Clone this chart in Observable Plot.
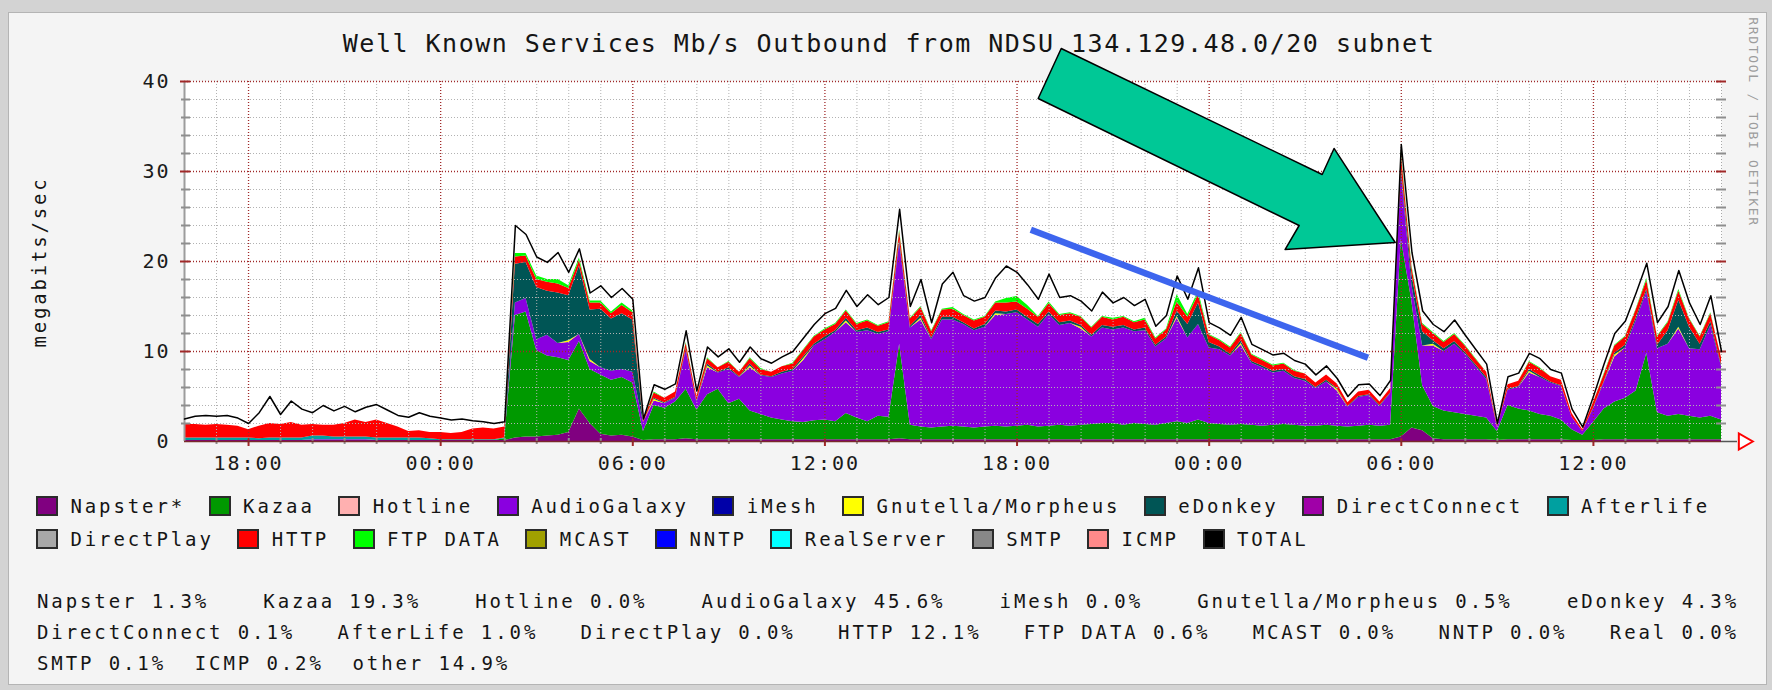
<!DOCTYPE html>
<html>
<head>
<meta charset="utf-8">
<script src="https://cdn.jsdelivr.net/npm/d3@7"></script>
<script src="https://cdn.jsdelivr.net/npm/@observablehq/plot@0.6"></script>
<style>
  html, body { margin: 0; padding: 0; background: #d3d3d3; }
  #page { position: relative; width: 1772px; height: 690px; overflow: hidden; }
  #panel { position: absolute; left: 8px; top: 12px; width: 1759px; height: 673px; background: #f4f4f4; border: 1px solid #b4b4b4; box-sizing: border-box; }
  .mono { font-family: "DejaVu Sans Mono", monospace; color: #151515; white-space: pre; }
  #title { position: absolute; left: 889px; top: 31px; transform: translateX(-50%); font-size: 25px; line-height: 25px; letter-spacing: 1.5px; }
  #chart { position: absolute; left: 0; top: 60px; }
  #ylabel { position: absolute; left: 39px; top: 262px; transform: translate(-50%, -50%) rotate(-90deg); font-size: 19px; line-height: 20px; letter-spacing: 2.8px; }
  #credit { position: absolute; left: 1753px; top: 122px; transform: translate(-50%, -50%) rotate(90deg); font-size: 13px; line-height: 14px; letter-spacing: 1.7px; color: #9c9c9c; }
  .lrow { position: absolute; left: 36px; display: flex; align-items: center; height: 20px; }
  .item { display: flex; align-items: center; margin-right: 23.6px; }
  .sw { width: 22px; height: 20px; box-sizing: border-box; border: 2px solid #2b2b2b; margin-right: 12.4px; }
  .txt { font-size: 19px; line-height: 20px; letter-spacing: 2.9px; }
  .srow { position: absolute; left: 37px; height: 20px; display: flex; font-size: 19px; line-height: 20px; letter-spacing: 2.9px; }
</style>
</head>
<body>
<div id="page">
  <div id="panel"></div>
  <div id="title" class="mono">Well Known Services Mb/s Outbound from NDSU 134.129.48.0/20 subnet</div>
  <div id="ylabel" class="mono">megabits/sec</div>
  <div id="credit" class="mono">RRDTOOL / TOBI OETIKER</div>
  <div id="chart"></div>
  <div id="legend"></div>
  <div id="stats"></div>
</div>
<script>
// ---------- data (20-minute samples, hours since 16:00 of day 1) ----------
const N = 145;
const stepHours = 1 / 3;

const xTickHours = [2, 8, 14, 20, 26, 32, 38, 44];
const xTickLabels = ["18:00", "00:00", "06:00", "12:00", "18:00", "00:00", "06:00", "12:00"];
const yTickValues = [0, 10, 20, 30, 40];
const yMinor = [2, 4, 6, 8, 12, 14, 16, 18, 22, 24, 26, 28, 32, 34, 36, 38];

const legendNames = ["Napster*", "Kazaa", "Hotline", "AudioGalaxy", "iMesh", "Gnutella/Morpheus", "eDonkey", "DirectConnect", "Afterlife",
                     "DirectPlay", "HTTP", "FTP DATA", "MCAST", "NNTP", "RealServer", "SMTP", "ICMP", "TOTAL"];
const legendColors = ["#800080", "#009900", "#ffb0b0", "#8a00e0", "#0000a8", "#ffff00", "#005555", "#a000a8", "#00a0a0",
                      "#a8a8a8", "#ff0000", "#00ff00", "#a0a000", "#0000ff", "#00ffff", "#888888", "#ff8a8a", "#000000"];

const statLabels = ["Napster", "Kazaa", "Hotline", "AudioGalaxy", "iMesh", "Gnutella/Morpheus", "eDonkey",
                    "DirectConnect", "AfterLife", "DirectPlay", "HTTP", "FTP DATA", "MCAST", "NNTP", "Real",
                    "SMTP", "ICMP", "other"];
const statPercents = [1.3, 19.3, 0.0, 45.6, 0.0, 0.5, 4.3, 0.1, 1.0, 0.0, 12.1, 0.6, 0.0, 0.0, 0.0, 0.1, 0.2, 14.9];

const napster = [
  0.1,0.1,0.1, 0.1,0.1,0.1, 0.1,0.1,0.1, 0.1,0.1,0.1, 0.1,0.1,0.1, 0.1,0.1,0.1, 0.1,0.1,0.1, 0.1,0.1,0.1, 0.1,0.1,0.1, 0.1,0.1,0.1,
  0.1,
  0.4,0.5,0.5,0.6,0.7,1.0,3.6,2.0,0.8,0.6,0.7,0.5,0.1,
  0.2,0.2,0.2,0.3,0.2,0.2,0.2,0.2,0.2,0.2, 0.2,0.2,0.2,0.2,0.2,0.2,0.2,0.2,0.2,0.2, 0.2,0.2,0.2,0.3,0.2,0.2,0.2,0.2,0.2,0.2,
  0.2,0.2,0.2,0.2,0.2,0.2,0.2,0.2,0.2,0.2, 0.2,0.2,0.2,
  0.2,0.2,0.2,0.2,0.2,0.2,0.2,0.2,0.2,0.2, 0.2,0.2,0.2,0.2,0.2,0.2,0.2,0.2,0.2,0.2, 0.2,0.2,0.2,0.2,0.2,0.2,0.2,
  0.5,1.5,1.2,0.3, 0.2,0.2,0.2,0.2,0.2, 0.1, 0.2,0.2,0.2,0.2,0.2,0.2, 0.1,0.1,0.1,
  0.2,0.2,0.2,0.2,0.2,0.2,0.2,0.2,0.2,0.2,0.2,0.2
];
const kazaa = [
  0,0,0, 0,0,0, 0,0,0, 0,0,0, 0,0,0, 0,0,0, 0,0,0, 0,0,0, 0,0,0, 0,0,0,
  0.2,
  13.6,13.9,9.6,8.9,8.6,8.0,7.5,6.0,6.6,6.2,6.4,6.0,1.0,
  3.8,3.5,4.2,5.5,3.3,5.0,5.6,4.0,4.5,3.2,2.8,2.4,2.2,2.0,1.9,2.1,2.2,2.0,2.9,2.4,2.0,2.6,2.5,10.5,1.6,1.4,1.3,1.4,1.5,1.4,
  1.3,1.4,1.5,1.4,1.5,1.6,1.4,1.5,1.6,1.5,1.6,1.7,1.8,
  1.8,1.6,1.8,1.7,1.6,1.8,2.0,1.8,2.2,1.8,1.7,1.6,1.7,1.6,1.5,1.6,1.7,1.6,1.5,1.5,1.6,1.5,1.4,1.5,1.6,1.5,1.6,
  22.0,14.0,5.0,3.6,3.2,3.0,2.8,2.6,2.4,1.0,3.8,3.4,3.2,2.8,2.6,2.2,1.2,0.6,2.0,3.4,4.2,4.6,5.4,9.6,3.0,2.6,2.8,2.6,2.4,2.6,2.2
];
const audioGalaxy = [
  0,0,0, 0,0,0, 0,0,0, 0,0,0, 0.1,0.1,0.1, 0.1,0.1,0.1, 0,0,0, 0,0,0, 0,0,0, 0,0,0,
  0,
  1.4,1.5,1.2,2.3,1.6,2.0,0.8,0.9,0.8,1.0,0.9,1.2,1.0,
  0.5,0.5,0.4,4.3,0.9,3.0,1.8,3.8,2.4,4.8,4.3,4.5,5.1,5.6,6.9,8.3,8.9,9.9,10.1,9.5,10.1,9.1,9.5,11.2,10.8,11.9,9.8,11.9,11.8,11.4,
  10.8,11.1,12.3,12.5,12.6,11.7,11.1,12.4,11.1,11.4,10.7,9.7,10.6,
  10.4,10.8,10.2,10.4,8.7,9.4,11.5,9.5,10.6,8.4,8.3,7.7,8.8,6.9,6.5,5.8,5.9,5.2,5.0,4.2,4.8,3.9,2.2,3.2,3.3,2.2,3.5,
  7.4,1.8,4.4,6.7,6.6,7.6,6.7,5.5,4.3,0.5,1.7,2.4,4.2,4.1,3.7,3.7,1.4,0.4,1.5,2.9,5.0,5.6,7.8,6.8,7.1,8.0,9.5,7.5,7.6,10.1,5.9
];
// sparse yellow specks: [sample index, Mb/s]
const gnutellaSpikes = [[36,0.2],[38,0.2],[44,0.2],[49,0.2],[53,0.2],[58,0.2],[62,0.2],[69,0.2],[76,0.2],[84,0.2],
                        [93,0.2],[99,0.2],[108,0.2],[117,0.2],[126,0.2],[134,0.2],[140,0.2]];
const eDonkey = [
  0,0,0, 0,0,0, 0,0,0, 0,0,0, 0,0,0, 0,0,0, 0,0,0, 0,0,0, 0,0,0, 0,0,0,
  0,
  4.3,4.0,5.8,4.9,5.6,5.0,7.6,5.5,6.5,5.8,6.2,5.8,0.0,
  0.1,0.1,0.1,0.2,0.1,0.2,0.1,0.2,0.1,0.2,0.1,0.1,0.2,0.2,0.2,0.2,0.3,0.2,0.3,0.2,0.3,0.2,0.2,0.4,0.2,0.3,0.2,0.3,0.3,0.2,
  0.2,0.3,0.3,0.3,0.3,0.3,0.3,0.3,0.3,0.3,0.2,0.2,0.3,
  0.3,0.3,0.2,0.3,0.2,0.2,0.6,1.5,2.4,0.6,0.3,0.2,0.3,0.2,0.2,0.2,0.2,0.2,0.2,0.1,0.2,0.1,0.1,0.1,0.1,0.1,0.1,
  0.5,1.2,1.6,0.4,0.3,0.3,0.2,0.2,0.2,0,0.1,0.1,0.2,0.2,0.1,0.1,0,0,0.1,0.1,0.2,0.3,0.3,0.3,0.4,1.5,3.0,2.4,0.6,0.4,0.2
];
// Afterlife only shows during the first evening; later samples are zero
const afterlifeEvening = [
  0.3,0.3,0.3, 0.3,0.3,0.3, 0.3,0.2,0.3, 0.3,0.3,0.3, 0.4,0.4,0.3, 0.3,0.3,0.3, 0.3,0.3,0.3, 0.3,0.3,0.2, 0.1,0.1,0.1, 0.1,0.1,0.1,
  0.1
];
const http = [
  1.5,1.5,1.4, 1.5,1.4,1.3, 0.9,1.4,1.6, 1.5,1.7,1.4, 1.3,1.2,1.3, 1.5,1.9,1.6, 2.0,1.6,1.2, 0.7,0.8,0.7, 0.8,0.7,0.8, 1.2,1.3,1.2,
  1.2,
  0.8,0.7,0.9,1.0,1.0,0.8,0.6,0.8,0.7,0.6,0.9,0.8,0.2,
  0.6,0.5,0.6,0.6,0.5,0.6,0.5,0.6,0.5,0.6,0.6,0.5,0.6,0.6,0.7,0.8,0.8,0.7,0.8,0.7,0.8,0.7,0.8,0.9,0.8,0.9,0.7,0.8,0.9,0.8,
  0.9,0.8,0.9,1.0,0.9,0.9,0.8,0.9,0.8,0.8,0.9,0.8,0.9,
  0.8,0.9,0.8,0.9,0.7,0.8,1.0,0.8,0.9,0.8,0.7,0.7,0.8,0.7,0.6,0.6,0.6,0.6,0.6,0.5,0.6,0.5,0.4,0.5,0.5,0.4,0.5,
  1.6,0.8,0.8,0.8,0.7,0.8,0.7,0.6,0.6,0.2,0.5,0.6,0.8,0.8,0.6,0.6,0.4,0.2,0.6,0.8,0.8,0.9,0.9,1.0,0.9,0.9,1.0,0.9,0.8,0.9,0.8
];
const ftpData = [
  0,0,0, 0,0,0, 0,0,0, 0,0,0, 0,0,0, 0,0,0, 0,0,0, 0,0,0, 0,0,0, 0,0,0,
  0,
  0.4,0.3,0.4,0.3,0.5,0.3,0.3,0.2,0.2,0.2,0.3,0.2,0,
  0.1,0,0,0.1,0,0.1,0,0.1,0,0.1,0.1,0,0,0.1,0.1,0.1,0.1,0.1,0.1,0.1,0.1,0.1,0.1,0.2,0.1,0.1,0.1,0.1,0.2,0.1,
  0.1,0.1,0.1,0.5,0.6,0.4,0.1,0.2,0.1,0.1,0.1,0.1,0.1,
  0.2,0.1,0.1,0.2,0.1,0.1,0.8,0.3,0.4,0.1,0.1,0.1,0.1,0.1,0.1,0.1,0.1,0.1,0,0,0,0,0,0,0,0,0,
  0.3,0.2,0.1,0.1,0.1,0.1,0.1,0.1,0,0,0,0,0.1,0.1,0,0,0,0,0,0.1,0.1,0.1,0.1,0.2,0.1,0.1,0.2,0.1,0.1,0.1,0
];
const total = [
  2.5,2.8,2.9, 2.8,2.9,2.6, 2.0,3.2,5.0, 3.0,4.5,3.6, 3.2,4.0,3.4, 3.9,3.3,3.8, 4.1,3.5,2.9, 2.7,3.2,2.8, 2.6,2.4,2.5, 2.3,2.2,2.0,
  2.2,
  24.0,23.0,20.5,19.9,21.0,18.8,21.4,16.5,17.3,16.0,17.0,15.8,2.5,
  6.3,5.8,6.4,12.3,5.6,10.5,9.4,10.3,8.8,10.5,9.2,8.7,9.4,10.0,11.5,13.0,14.2,14.8,16.8,15.0,16.3,15.2,16.0,25.8,15.0,18.0,13.2,17.5,18.8,16.2,
  15.6,16.0,18.2,19.5,18.8,17.4,15.8,18.6,16.0,16.2,15.6,14.5,16.6,
  15.4,16.0,15.1,15.8,12.8,14.0,18.4,15.8,19.3,13.2,12.6,11.8,13.8,10.8,10.2,9.6,9.8,9.0,8.6,7.4,8.4,7.0,5.0,6.3,6.4,5.1,6.8,
  33.0,21.0,14.5,13.0,12.2,13.5,11.8,10.2,8.6,2.0,7.2,7.6,9.8,9.2,8.0,7.6,3.6,1.6,5.0,8.6,12.0,13.4,16.5,19.8,13.2,15.0,19.0,15.4,13.0,16.2,10.0
];

// annotation overlays (hours, Mb/s)
const arrowHours = [27.38, 35.53, 35.90, 37.81, 34.37, 34.81, 26.66];
const arrowMbps  = [43.67, 29.67, 32.56, 22.11, 21.33, 24.00, 38.11];
const blueHours = [26.43, 36.96];
const blueMbps  = [23.52, 9.30];

// ---------- build tables ----------
const gnutella = new Array(N).fill(0);
for (const [i, v] of gnutellaSpikes) gnutella[i] = v;
const afterlife = d3.range(N).map(i => afterlifeEvening[i] ?? 0);

const stackSeries = [
  ["Napster*", napster], ["Kazaa", kazaa], ["AudioGalaxy", audioGalaxy], ["Gnutella/Morpheus", gnutella],
  ["eDonkey", eDonkey], ["Afterlife", afterlife], ["HTTP", http], ["FTP DATA", ftpData]
];
for (const [name, arr] of stackSeries.concat([["TOTAL", total]])) {
  if (arr.length !== N) throw new Error(name + " has " + arr.length + " samples, expected " + N);
}
const rows = stackSeries.flatMap(([name, arr]) => arr.map((v, i) => ({t: i * stepHours, v, name})));
const totalRows = total.map((v, i) => ({t: i * stepHours, v}));
const arrowRows = arrowHours.map((t, i) => ({t, v: arrowMbps[i]}));
const blueRows = blueHours.map((t, i) => ({t, v: blueMbps[i]}));
const xMinor = d3.range(1, 48).filter(h => !xTickHours.includes(h));

const W = 1772, ML = 184, MR = 51, innerW = W - ML - MR, innerH = 360;
const gray = "#b2b2b2", grayTick = "#8e8e8e", red = "#a02828";

const chart = Plot.plot({
  width: W, height: 420,
  marginLeft: ML, marginRight: MR, marginTop: 21, marginBottom: 39,
  x: {domain: [0, 48]},
  y: {domain: [0, 40]},
  color: {domain: legendNames, range: legendColors},
  style: {background: "transparent", overflow: "visible", fontFamily: "'DejaVu Sans Mono', monospace", fontSize: "20px", color: "#1a1a1a", letterSpacing: "2px"},
  marks: [
    Plot.frame({fill: "white", stroke: "none"}),
    Plot.areaY(rows, {x: "t", y: "v", fill: "name", order: stackSeries.map(d => d[0]), curve: "linear"}),
    Plot.ruleX(xMinor, {stroke: gray, strokeDasharray: "1,2"}),
    Plot.ruleY(yMinor, {stroke: gray, strokeDasharray: "1,2"}),
    Plot.ruleX(xTickHours, {stroke: red, strokeDasharray: "1,2", strokeWidth: 1.3}),
    Plot.ruleY([10, 20, 30, 40], {stroke: red, strokeDasharray: "1,2", strokeWidth: 1.3}),
    Plot.ruleX([0], {stroke: "#9c9c9c", strokeWidth: 2}),
    Plot.ruleX([48], {stroke: "#a8a8a8", strokeDasharray: "1,2"}),
    // tick marks
    Plot.ruleY(yMinor, {insetRight: innerW - 9, dx: -3, stroke: grayTick, strokeWidth: 2}),
    Plot.ruleY([10, 20, 30, 40], {insetRight: innerW - 10, dx: -4, stroke: red, strokeWidth: 2}),
    Plot.ruleY(yMinor, {insetLeft: innerW - 10, dx: 5, stroke: grayTick, strokeWidth: 2}),
    Plot.ruleY([10, 20, 30, 40], {insetLeft: innerW - 10, dx: 5, stroke: red, strokeWidth: 2}),
    Plot.ruleX(xMinor, {insetTop: innerH - 6, dy: 3, stroke: grayTick, strokeWidth: 2}),
    Plot.ruleX(xTickHours, {insetTop: innerH - 7, dy: 5, stroke: red, strokeWidth: 2}),
    Plot.ruleY([0], {stroke: "#7a2a2a", strokeWidth: 1.5}),
    Plot.ruleY([0], {x1: 48, x2: 48.5, stroke: "#555", strokeWidth: 1.5}),
    Plot.dot([{t: 48, v: 0}], {x: "t", y: "v", dx: 22, symbol: "triangle", rotate: 90, r: 6, stroke: "#ff0000", strokeWidth: 2, fill: "white"}),
    // TOTAL line
    Plot.line(totalRows, {x: "t", y: "v", stroke: "#000", strokeWidth: 1.5, curve: "linear"}),
    // axes
    Plot.axisY(yTickValues, {tickSize: 0, tickPadding: 14, label: null, fontSize: 20}),
    Plot.axisX(xTickHours, {tickSize: 0, tickPadding: 14, label: null, fontSize: 20,
      tickFormat: d => xTickLabels[xTickHours.indexOf(d)]}),
    // annotations
    Plot.line(blueRows, {x: "t", y: "v", stroke: "#3d65ee", strokeWidth: 6.5, strokeLinecap: "butt"}),
    Plot.line(arrowRows, {x: "t", y: "v", fill: "#00c896", stroke: "#000", strokeWidth: 1.5, curve: "linear-closed"})
  ]
});
document.getElementById("chart").appendChild(chart);

// ---------- legend ----------
const legend = document.getElementById("legend");
[[0, 9, 496], [9, 18, 529]].forEach(([a, b, top]) => {
  const row = document.createElement("div");
  row.className = "lrow";
  row.style.top = top + "px";
  for (let i = a; i < b; i++) {
    const item = document.createElement("div");
    item.className = "item";
    const sw = document.createElement("div");
    sw.className = "sw";
    sw.style.background = legendColors[i];
    const tx = document.createElement("span");
    tx.className = "txt mono";
    tx.textContent = legendNames[i];
    item.append(sw, tx);
    row.append(item);
  }
  legend.append(row);
});

// ---------- statistics lines ----------
const stats = document.getElementById("stats");
const fmt = i => statLabels[i] + " " + statPercents[i].toFixed(1) + "%";
[[0, 7, 591, true], [7, 15, 622, true], [15, 18, 653, false]].forEach(([a, b, top, justify]) => {
  const row = document.createElement("div");
  row.className = "srow mono";
  row.style.top = top + "px";
  if (justify) {
    row.style.width = "1702px";
    row.style.justifyContent = "space-between";
    for (let i = a; i < b; i++) {
      const s = document.createElement("span");
      s.textContent = fmt(i);
      row.append(s);
    }
  } else {
    row.textContent = d3.range(a, b).map(fmt).join("  ");
  }
  stats.append(row);
});
</script>
</body>
</html>
